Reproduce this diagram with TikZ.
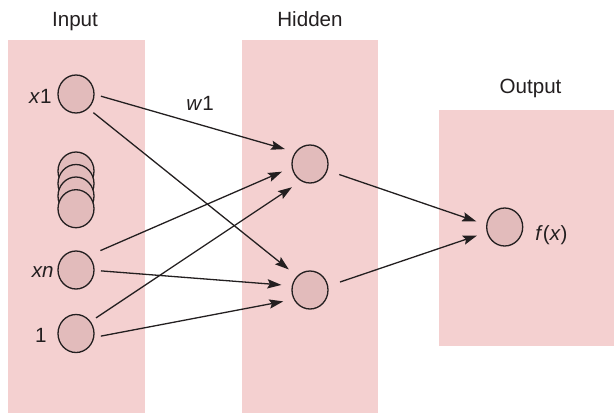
\documentclass[tikz,border=0pt]{standalone}
\usepackage{fontspec}
\setmainfont{Liberation Sans}
\usetikzlibrary{arrows.meta,shapes.geometric}
\definecolor{panelpink}{RGB}{244,208,208}
\definecolor{unitpink}{RGB}{226,187,187}
\definecolor{inkgray}{RGB}{35,31,32}

\begin{document}
\begin{tikzpicture}[
  x=0.5pt,y=-0.5pt,
  font=\fontsize{10.3}{12}\selectfont,
  panel/.style={fill=panelpink,draw=none},
  unit/.style={ellipse,draw=inkgray,fill=unitpink,line width=0.65pt,minimum width=18pt,minimum height=19pt,inner sep=0pt,outer sep=3.5pt},
  ttl/.style={anchor=base,text=inkgray,inner sep=0pt},
  lab/.style={text=inkgray,inner sep=0pt},
  arr/.style={-{Stealth[length=7pt,width=4.6pt,inset=1.2pt]},line width=0.65pt,draw=inkgray,shorten >=2pt},
  ]
  \useasboundingbox (0,0) rectangle (614,413);
  % layer panels
  \fill[panel] (8,40) rectangle (145,413);
  \fill[panel] (242,40) rectangle (378,413);
  \fill[panel] (439,110) rectangle (614,346);
  \node[ttl] (tin)  at (75,26.7)  {Input};
  \node[ttl] (thid) at (310,26.7) {Hidden};
  \node[ttl] (tout) at (530.5,93.3) {Output};
  % units
  \node[unit] (x1)  at (76,94)    {};
  \foreach \i/\y in {1/171,2/183.5,3/196,4/208.7}
    \node[unit] (s\i) at (76,\y) {};
  \node[unit] (xn)  at (76,270)   {};
  \node[unit] (one) at (76,333.5) {};
  \node[unit] (h1)  at (310,164)  {};
  \node[unit] (h2)  at (310,290)  {};
  \node[unit] (out) at (504.7,227) {};
  \node[lab,anchor=base east] (lx1)  at (52,103)  {\textit{x}1};
  \node[lab,anchor=base east] (lxn)  at (54,277)  {\textit{xn}};
  \node[lab,anchor=base east] (lone) at (47,342)  {1};
  \node[lab,anchor=base west] (lout) at (535,240) {\textit{f}(\textit{x})};
  \node[lab,anchor=base] (lw1) at (200,110) {\textit{w}1};
  % connections
  \draw[arr] (x1.355) -- (h1.147);
  \draw[arr] (x1.313) -- (h2.135);
  \draw[arr,shorten <=3pt] (xn.42) -- (h1.194);
  \draw[arr] (xn.358) -- (h2.169);
  \draw[arr] (one.38) -- (h1.235);
  \draw[arr] (one.354) -- (h2.205);
  \draw[arr,shorten <=3pt] (h1.340) -- (out.170);
  \draw[arr,shorten <=3pt] (h2.14) -- (out.197);
\end{tikzpicture}
\end{document}
